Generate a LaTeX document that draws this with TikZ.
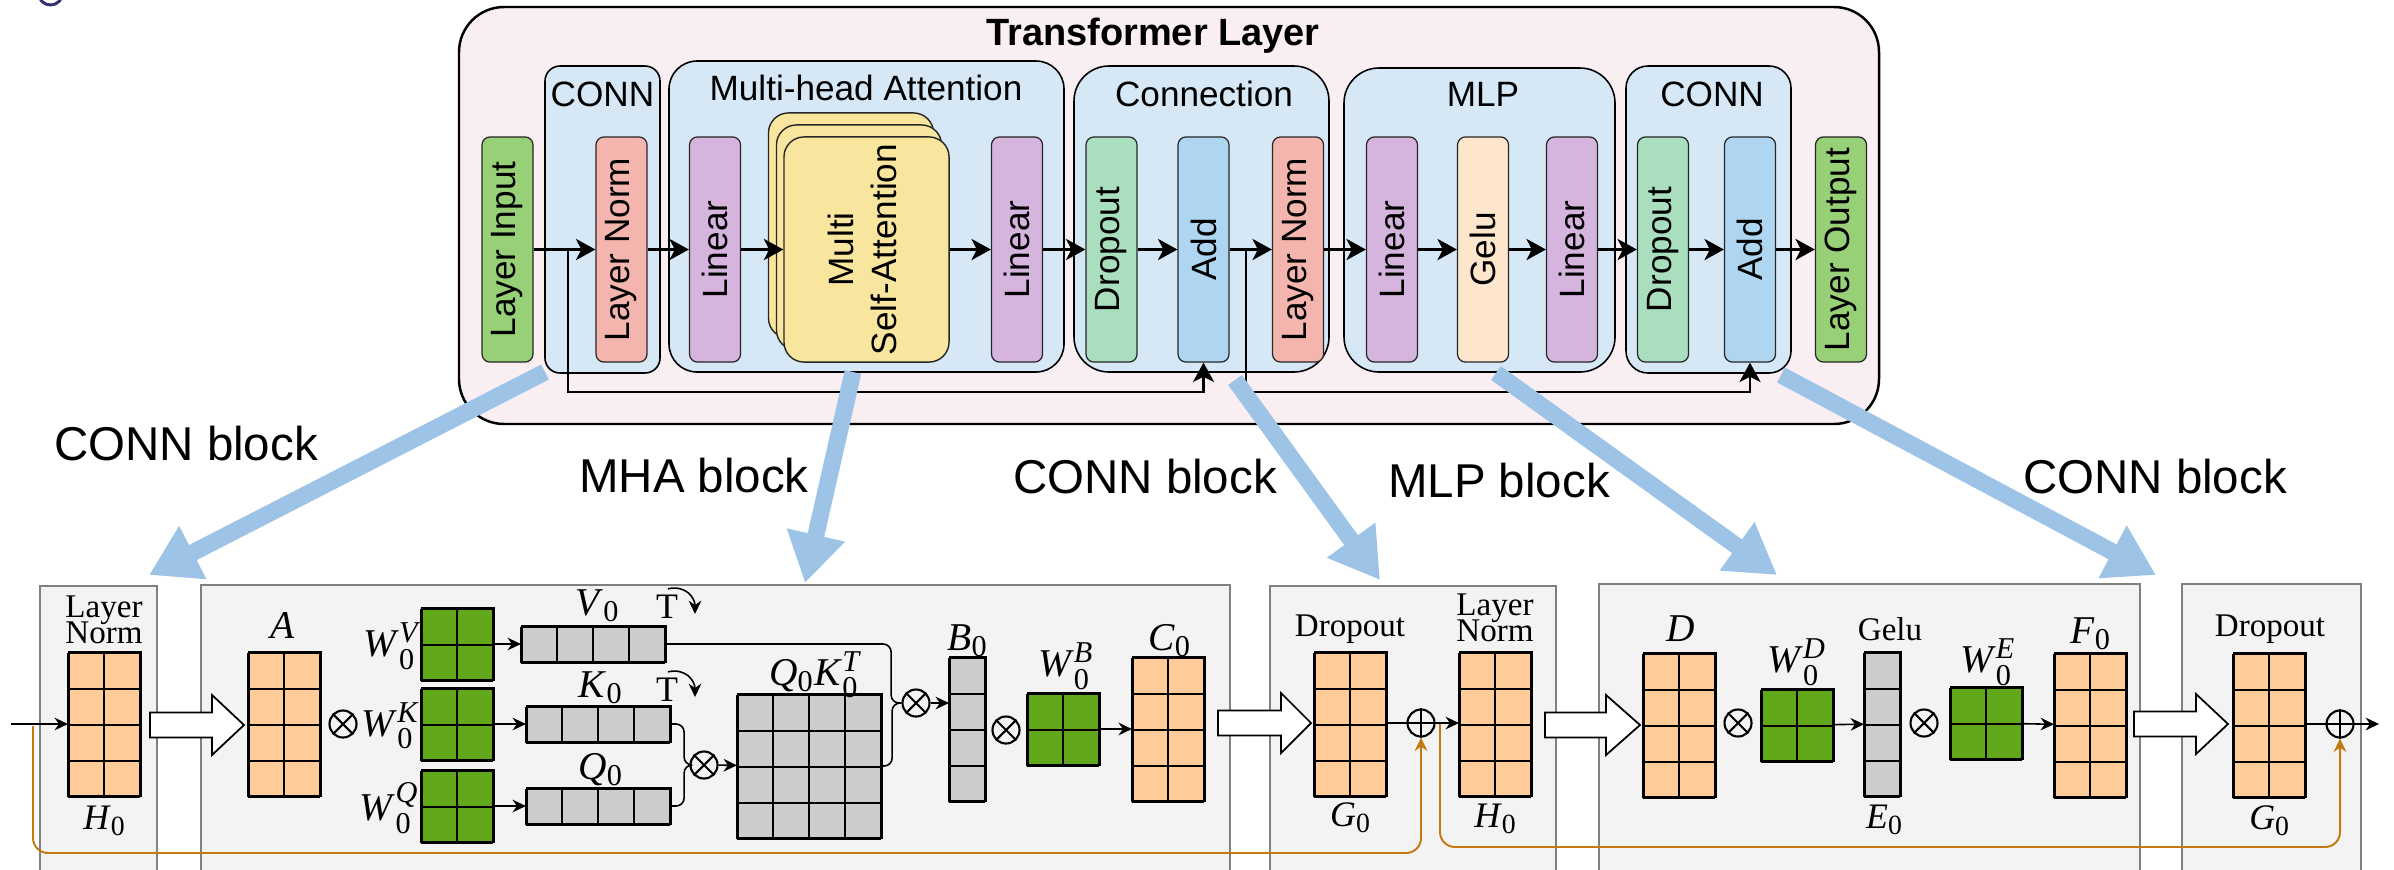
\documentclass[tikz,border=0pt]{standalone}
\usepackage{fontspec}
\setmainfont{Liberation Serif}
\setsansfont{Liberation Sans}
\usepackage{amsmath}
\usepackage{graphicx}
\usetikzlibrary{arrows.meta}
\DeclareMathSizes{11.2}{11.2}{8.6}{6.5}
\DeclareMathSizes{10.2}{10.2}{7.9}{6}

\definecolor{outerfill}{RGB}{249,238,242}
\definecolor{grpfill}{RGB}{214,232,246}
\definecolor{inputgreen}{RGB}{151,208,119}
\definecolor{normpink}{RGB}{244,181,174}
\definecolor{linpurple}{RGB}{213,180,222}
\definecolor{attyellow}{RGB}{249,230,158}
\definecolor{dropgreen}{RGB}{169,223,191}
\definecolor{addblue}{RGB}{174,214,241}
\definecolor{gelupeach}{RGB}{254,230,204}
\definecolor{linkblue}{RGB}{157,195,230}
\definecolor{matorange}{RGB}{255,204,153}
\definecolor{matgreen}{RGB}{96,168,26}
\definecolor{matgray}{RGB}{204,204,204}
\definecolor{skiporange}{RGB}{196,122,16}
\definecolor{panelfill}{RGB}{243,243,243}
\definecolor{panelline}{RGB}{128,128,128}
\definecolor{markblue}{RGB}{50,50,110}

\tikzset{
  bar/.style={draw=black!85, line width=0.35pt, rounded corners=0.08cm,
    minimum width=0.51cm, minimum height=2.25cm, inner sep=0pt,
    font=\sffamily\fontsize{10}{12}\selectfont},
  card/.style={draw=black!85, line width=0.4pt, fill=attyellow, rounded corners=0.2cm,
    minimum width=1.65cm, minimum height=2.25cm, inner sep=0pt,
    font=\sffamily\fontsize{10}{12}\selectfont},
  grp/.style={draw=black, line width=0.45pt, fill=grpfill},
  grplabel/.style={anchor=base, inner sep=0pt, font=\sffamily\fontsize{10}{12}\selectfont},
  flow/.style={line width=0.8pt, -{Stealth[length=5.5pt,width=6pt,inset=1.5pt]}},
  link/.style={draw=linkblue, line width=4.8pt, -{Triangle[length=14pt,width=16pt]}},
  blocklabel/.style={anchor=base, inner sep=0pt, font=\sffamily\fontsize{13.5}{16}\selectfont},
  panel/.style={draw=panelline, fill=panelfill, line width=0.6pt},
  gm/.style={draw=black, line width=0.6pt, inner sep=0pt},
  gl/.style={line width=0.6pt},
  op/.style={draw=black, circle, line width=0.6pt, minimum size=0.27cm, inner sep=0pt},
  sarrow/.style={line width=0.45pt, -{Stealth[length=3.8pt,width=3.6pt]}},
  plainline/.style={line width=0.45pt},
  skipline/.style={draw=skiporange, line width=0.55pt, rounded corners=0.15cm,
    -{Stealth[length=3.8pt,width=3.6pt]}},
  hollow/.style={draw=black, fill=white, line width=0.5pt, line join=miter},
  mlab/.style={inner sep=0pt, font=\fontsize{11.2}{13}\selectfont},
  wlab/.style={inner sep=0pt, font=\fontsize{11.2}{13}\selectfont},
  ulab/.style={inner sep=0pt, font=\fontsize{10.2}{12}\selectfont},
  tlab/.style={inner sep=0pt, anchor=base, font=\fontsize{9.4}{11}\selectfont},
  tmark/.style={inner sep=0pt, anchor=base, font=\fontsize{10.2}{12}\selectfont},
}

% grid matrix: name, centre, columns, rows, fill
\newcommand\gmat[5]{%
  \node[gm, fill=#5, minimum width=#3*0.36cm, minimum height=#4*0.36cm] (#1) at #2 {};
  \draw[gl, shift={(#1.south west)}] (0,0) grid[xstep=0.36cm, ystep=0.36cm] (#3*0.36cm, #4*0.36cm);
}
% circled operators
\newcommand\opx[2]{%
  \node[op] (#1) at #2 {};
  \draw[line width=0.6pt] (#1.north west) -- (#1.south east) (#1.north east) -- (#1.south west);
}
\newcommand\opp[2]{%
  \node[op] (#1) at #2 {};
  \draw[line width=0.6pt] (#1.north) -- (#1.south) (#1.west) -- (#1.east);
}
% block arrow between panels: left end, head base, tip, centre line
\newcommand\hollowarrow[4]{%
  \draw[hollow] (#1,#4-12.5) -- (#2,#4-12.5) -- (#2,#4-30) -- (#3,#4) -- (#2,#4+30)
    -- (#2,#4+12.5) -- (#1,#4+12.5) -- cycle;
}

\begin{document}
\begin{tikzpicture}[x=0.01cm, y=-0.01cm]
\useasboundingbox (0,0) rectangle (2394,869);
\clip (0,0) rectangle (2394,869);

% corner mark
\draw[markblue, line width=0.85pt] (50.5,-7) circle[radius=0.12cm];

% ---------------- Transformer layer ----------------
\draw[fill=outerfill, line width=0.7pt, rounded corners=0.45cm] (459,7) rectangle (1879,424);
\node[anchor=base, inner sep=0pt, font=\sffamily\bfseries\fontsize{10.8}{13}\selectfont] (title) at (1153,45) {Transformer Layer};

\draw[grp, rounded corners=0.15cm] (545,66) rectangle (660,373);
\draw[grp, rounded corners=0.28cm] (669,61) rectangle (1064,372);
\draw[grp, rounded corners=0.35cm] (1074,66) rectangle (1329,372);
\draw[grp, rounded corners=0.35cm] (1344,68) rectangle (1615,372);
\draw[grp, rounded corners=0.22cm] (1626,66) rectangle (1791,373);

\node[grplabel] (gconn1) at (602.5,106) {CONN};
\node[grplabel] (gmha) at (866,100) {Multi-head Attention};
\node[grplabel] (gconnect) at (1204,106) {Connection};
\node[grplabel] (gmlp) at (1483,106) {MLP};
\node[grplabel] (gconn2) at (1712,106) {CONN};

\node[bar, fill=inputgreen] (lin) at (507.5,249.5) {\rotatebox{90}{Layer Input}};
\node[bar, fill=normpink] (ln1) at (621.5,249.5) {\rotatebox{90}{Layer Norm}};
\node[bar, fill=linpurple] (lina) at (715,249.5) {\rotatebox{90}{Linear}};
\node[card] (sa3) at (851,225.5) {};
\node[card] (sa2) at (859,237.5) {};
\node[card] (sa1) at (866.5,249.5) {\rotatebox{90}{\begin{tabular}{@{}c@{}}Multi\\Self-Attention\end{tabular}}};
\node[bar, fill=linpurple] (linb) at (1017,249.5) {\rotatebox{90}{Linear}};
\node[bar, fill=dropgreen] (drop1) at (1111.5,249.5) {\rotatebox{90}{Dropout}};
\node[bar, fill=addblue] (add1) at (1203.5,249.5) {\rotatebox{90}{Add}};
\node[bar, fill=normpink] (ln2) at (1298,249.5) {\rotatebox{90}{Layer Norm}};
\node[bar, fill=linpurple] (linc) at (1392,249.5) {\rotatebox{90}{Linear}};
\node[bar, fill=gelupeach] (gelu) at (1483,249.5) {\rotatebox{90}{Gelu}};
\node[bar, fill=linpurple] (lind) at (1572,249.5) {\rotatebox{90}{Linear}};
\node[bar, fill=dropgreen] (drop2) at (1663,249.5) {\rotatebox{90}{Dropout}};
\node[bar, fill=addblue] (add2) at (1750,249.5) {\rotatebox{90}{Add}};
\node[bar, fill=inputgreen] (lout) at (1841,249.5) {\rotatebox{90}{Layer Output}};

\draw[flow] (lin) -- (ln1);
\draw[flow] (ln1) -- (lina);
\draw[flow] (lina) -- (sa1);
\draw[flow] (sa1) -- (linb);
\draw[flow] (linb) -- (drop1);
\draw[flow] (drop1) -- (add1);
\draw[flow] (add1) -- (ln2);
\draw[flow] (ln2) -- (linc);
\draw[flow] (linc) -- (gelu);
\draw[flow] (gelu) -- (lind);
\draw[flow] (lind) -- (drop2);
\draw[flow] (drop2) -- (add2);
\draw[flow] (add2) -- (lout);

% residual paths
\coordinate (br1) at (568,249.5);
\coordinate (br2) at (1246,249.5);
\coordinate (res) at (0,392);
\draw[flow] (br1) |- (res -| add1.south) -- (add1.south);
\draw[flow] (br2) |- (res -| add2.south) -- (add2.south);

% ---------------- detail panels ----------------
\draw[panel] (40,586) rectangle (157,920);
\draw[panel] (201,585) rectangle (1230,920);
\draw[panel] (1270,586) rectangle (1556,920);
\draw[panel] (1599,584) rectangle (2140,920);
\draw[panel] (2182,584) rectangle (2361,920);

\hollowarrow{150}{212}{244}{725}
\hollowarrow{1218}{1281}{1311}{723}
\hollowarrow{1545}{1606}{1640}{725}
\hollowarrow{2134}{2196}{2228}{724}

% panel 1: layer norm
\node[tlab] (ln1a) at (104,617) {Layer};
\node[tlab] (ln1b) at (104,643) {Norm};
\gmat{h0a}{(105,724)}{2}{4}{matorange}
\node[ulab, anchor=base] (lh0a) at (105,829) {\textit{H}$_{\text{0}}$};
\coordinate (in0) at (11,724);
\draw[sarrow] (in0) -- (h0a.west);

% panel 2: multi-head attention
\gmat{amat}{(285,724)}{2}{4}{matorange}
\node[mlab, anchor=base] (la) at (283,638) {\textit{A}};
\opx{x1}{(343,724)}
\gmat{wv}{(458,644)}{2}{2}{matgreen}
\gmat{wk}{(458,724)}{2}{2}{matgreen}
\gmat{wq}{(458,806)}{2}{2}{matgreen}
\node[wlab, anchor=east] (lwv) at (420,646) {\textit{W}$^{\textit{V}}_{\text{0}}$};
\node[wlab, anchor=east] (lwk) at (420,726) {\textit{W}$^{\textit{K}}_{\text{0}}$};
\node[wlab, anchor=east] (lwq) at (420,808) {\textit{W}$^{\textit{Q}}_{\text{0}}$};
\gmat{v0}{(594,644)}{4}{1}{matgray}
\gmat{k0}{(599,724)}{4}{1}{matgray}
\gmat{q0}{(599,806)}{4}{1}{matgray}
\draw[sarrow] (wv) -- (v0);
\draw[sarrow] (wk) -- (k0);
\draw[sarrow] (wq) -- (q0);
\node[mlab, anchor=base] (lv0) at (598,615) {\textit{V}$_{\text{0}}$};
\node[mlab, anchor=base] (lk0) at (601,697) {\textit{K}$_{\text{0}}$};
\node[mlab, anchor=base] (lq0) at (601,779) {\textit{Q}$_{\text{0}}$};
\node[tmark] (tv) at (667,618) {T};
\node[tmark] (tk) at (667,701) {T};
\coordinate (tve) at (695,614);
\coordinate (tke) at (695,697);
\draw[sarrow] (tv.north) ++(1,-5) .. controls +(18,-4) and +(0,-16) .. (tve);
\draw[sarrow] (tk.north) ++(1,-5) .. controls +(18,-4) and +(0,-16) .. (tke);

\opx{x2}{(704,765)}
\draw[plainline, rounded corners=0.08cm] (k0.east) -- ++(12,0) |- (x2.west);
\draw[plainline, rounded corners=0.08cm] (q0.east) -- ++(12,0) |- (x2.west);
\gmat{qk}{(810,766)}{4}{4}{matgray}
\draw[sarrow] (x2) -- (qk);
\node[mlab, anchor=base] (lqk) at (815,685) {\textit{Q}$_{\text{0}}$\textit{K}$^{\textit{T}}_{\text{0}}$};

\opx{x3}{(916,703)}
\draw[plainline, rounded corners=0.08cm] (v0.east) -- ++(224,0) |- (x3.west);
\draw[plainline, rounded corners=0.08cm] (qk.east) -- ++(9,0) |- (x3.west);
\gmat{b0}{(968,729)}{1}{4}{matgray}
\draw[sarrow] (x3.east) -- (x3.east -| b0.west);
\node[mlab, anchor=base] (lb0) at (968,650) {\textit{B}$_{\text{0}}$};
\opx{x4}{(1006,730)}
\gmat{wb}{(1064,729)}{2}{2}{matgreen}
\node[wlab, anchor=south] (lwb) at (1066,690) {\textit{W}$^{\textit{B}}_{\text{0}}$};
\gmat{c0}{(1169,729)}{2}{4}{matorange}
\draw[sarrow] (wb) -- (c0);
\node[mlab, anchor=base] (lc0) at (1170,650) {\textit{C}$_{\text{0}}$};

% panel 3: dropout, residual add, layer norm
\node[tlab] (ldrop1) at (1350,636) {Dropout};
\gmat{g0a}{(1351,724)}{2}{4}{matorange}
\node[ulab, anchor=base] (lg0a) at (1351,826) {\textit{G}$_{\text{0}}$};
\opp{p1}{(1421,723)}
\gmat{h0b}{(1496,724)}{2}{4}{matorange}
\draw[plainline] (g0a.east |- p1.west) -- (p1.west);
\draw[sarrow] (p1.east) -- (p1.east -| h0b.west);
\node[tlab] (ln2a) at (1495,615) {Layer};
\node[tlab] (ln2b) at (1495,641) {Norm};
\node[ulab, anchor=base] (lh0b) at (1496,827) {\textit{H}$_{\text{0}}$};

% panel 4: MLP
\gmat{dmat}{(1680,725)}{2}{4}{matorange}
\node[mlab, anchor=base] (ld) at (1681,641) {\textit{D}};
\opx{x5}{(1738,723)}
\gmat{wd}{(1798,725)}{2}{2}{matgreen}
\node[wlab, anchor=south] (lwd) at (1797,686) {\textit{W}$^{\textit{D}}_{\text{0}}$};
\gmat{e0}{(1883,724)}{1}{4}{matgray}
\draw[sarrow] (wd) -- (e0);
\node[tlab] (lgelu) at (1890,640) {Gelu};
\node[ulab, anchor=base] (le0) at (1885,828) {\textit{E}$_{\text{0}}$};
\opx{x6}{(1924,723)}
\gmat{we}{(1987,723)}{2}{2}{matgreen}
\node[wlab, anchor=south] (lwe) at (1988,686) {\textit{W}$^{\textit{E}}_{\text{0}}$};
\gmat{f0}{(2091,725)}{2}{4}{matorange}
\draw[sarrow] (we) -- (f0);
\node[mlab, anchor=base] (lf0) at (2091,643) {\textit{F}$_{\text{0}}$};

% panel 5: dropout and residual add
\node[tlab] (ldrop2) at (2270,636) {Dropout};
\gmat{g0b}{(2270,725)}{2}{4}{matorange}
\node[ulab, anchor=base] (lg0b) at (2270,829) {\textit{G}$_{\text{0}}$};
\opp{p2}{(2340,724)}
\draw[plainline] (g0b.east |- p2.west) -- (p2.west);
\coordinate (out) at (2379,724);
\draw[sarrow] (p2.east) -- (out);

% residual paths in the panels
\coordinate (s1) at (33,726);
\coordinate (lane1) at (0,853);
\draw[skipline] (s1) |- (lane1 -| p1.south) -- (p1.south);
\coordinate (s2) at (1440,724);
\coordinate (lane2) at (0,847);
\draw[skipline] (s2) |- (lane2 -| p2.south) -- (p2.south);

% ---------------- links from layer parts to panels ----------------
\coordinate (t1) at (545,372);  \coordinate (e1) at (149,575);
\coordinate (t2) at (853,372);  \coordinate (e2) at (805,583);
\coordinate (t3) at (1235,380); \coordinate (e3) at (1380,580);
\coordinate (t4) at (1496,373); \coordinate (e4) at (1777,575);
\coordinate (t5) at (1781,375); \coordinate (e5) at (2156,575);
\draw[link] (t1) -- (e1);
\draw[link] (t2) -- (e2);
\draw[link] (t3) -- (e3);
\draw[link] (t4) -- (e4);
\draw[link] (t5) -- (e5);

\node[blocklabel] (bl1) at (186,460) {CONN block};
\node[blocklabel] (bl2) at (694,492) {MHA block};
\node[blocklabel] (bl3) at (1145,493) {CONN block};
\node[blocklabel] (bl4) at (1499,497) {MLP block};
\node[blocklabel] (bl5) at (2155,493) {CONN block};
\end{tikzpicture}
\end{document}
